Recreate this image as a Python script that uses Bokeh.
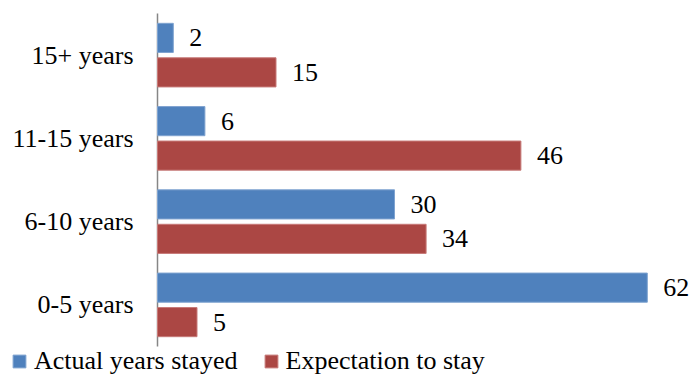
from bokeh.plotting import figure
from bokeh.models import ColumnDataSource, Range1d, Legend, LegendItem
from bokeh.core.properties import value
from bokeh.embed import file_html
from bokeh.resources import INLINE

categories = ["0-5 years", "6-10 years", "11-15 years", "15+ years"]
actual = [62, 30, 6, 2]
expectation = [5, 34, 46, 15]
series_names = ["Actual years stayed", "Expectation to stay"]

FONT = "'Liberation Serif', 'Times New Roman', serif"
FS = "26px"
BLUE = "#4F81BD"
RED = "#AB4744"

W, H = 690, 376
LEFT_PX, TOP_PX, BOTTOM_PX = 157, 13, 30
PX_PER_UNIT = 7.9
GROUP_PX = (H - TOP_PX - BOTTOM_PX) / len(categories)

off = 0.207
bh = 0.35
ypos = [i + 0.5 for i in range(len(categories))]

src = ColumnDataSource(dict(
    cat=categories,
    y_a=[y + off for y in ypos],
    y_e=[y - off for y in ypos],
    y_c=ypos,
    zero=[0] * len(categories),
    actual=actual,
    expect=expectation,
    actual_lbl=[str(v) for v in actual],
    expect_lbl=[str(v) for v in expectation],
))

p = figure(width=W, height=H, output_backend="svg", toolbar_location=None,
           x_range=Range1d(-LEFT_PX / PX_PER_UNIT, (W - LEFT_PX) / PX_PER_UNIT),
           y_range=Range1d(-BOTTOM_PX / GROUP_PX, len(categories) + TOP_PX / GROUP_PX),
           min_border=0, min_border_left=0, min_border_right=0,
           min_border_top=0, min_border_bottom=0)
p.outline_line_color = None
p.xgrid.visible = False
p.ygrid.visible = False
p.xaxis.visible = False
p.yaxis.visible = False

# vertical category axis line
p.segment(x0=[0], y0=[0], x1=[0], y1=[len(categories)], line_color="#868686", line_width=1.5)

r1 = p.hbar(y="y_a", right="actual", left=0, height=bh, source=src,
            fill_color=BLUE, line_color="#7FA3D0", line_width=1)
r2 = p.hbar(y="y_e", right="expect", left=0, height=bh, source=src,
            fill_color=RED, line_color="#C77A78", line_width=1)

# category labels
p.text(x="zero", y="y_c", text="cat", source=src, x_offset=-24,
       text_align="right", text_baseline="middle",
       text_font=value(FONT), text_font_size=FS, text_color="black")

# data labels
p.text(x="actual", y="y_a", text="actual_lbl", source=src,
       x_offset=16, text_baseline="middle", text_align="left",
       text_font=value(FONT), text_font_size=FS, text_color="black")
p.text(x="expect", y="y_e", text="expect_lbl", source=src,
       x_offset=16, text_baseline="middle", text_align="left",
       text_font=value(FONT), text_font_size=FS, text_color="black")

legend = Legend(items=[LegendItem(label=series_names[0], renderers=[r1]),
                       LegendItem(label=series_names[1], renderers=[r2])],
                location=(11, 0), orientation="horizontal",
                glyph_width=16, glyph_height=16, label_standoff=7, spacing=25,
                padding=0, margin=0, border_line_color=None,
                background_fill_alpha=0,
                label_text_font=FONT, label_text_font_size=FS,
                label_text_color="black")
p.add_layout(legend, "center")

open("out.html", "w").write(file_html(p, INLINE))
